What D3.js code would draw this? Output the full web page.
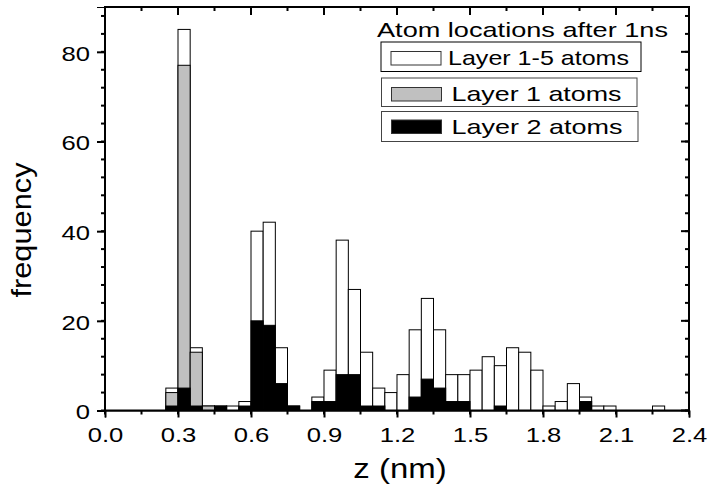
<!DOCTYPE html>
<html>
<head>
<meta charset="utf-8">
<script src="https://cdn.jsdelivr.net/npm/d3@7"></script>
<style>
  body { margin: 0; background: #fff; }
  text { font-family: "Liberation Sans", Arial, sans-serif; fill: #000; }
</style>
</head>
<body>
<div id="chart"></div>
<script>
// histogram of atom z positions, bin width 0.05 nm
const binStart = [0.25, 0.30, 0.35, 0.40, 0.45, 0.50, 0.55, 0.60, 0.65, 0.70, 0.75, 0.80, 0.85, 0.90, 0.95,
                  1.00, 1.05, 1.10, 1.15, 1.20, 1.25, 1.30, 1.35, 1.40, 1.45, 1.50, 1.55, 1.60, 1.65, 1.70,
                  1.75, 1.80, 1.85, 1.90, 1.95, 2.00, 2.05, 2.10, 2.15, 2.20, 2.25];
const binWidth = 0.05;
const layerAll = [5, 85, 14, 1, 1, 1, 2, 40, 42, 14, 1, 0, 3, 9, 38,
                  27, 13, 5, 4, 8, 18, 25, 18, 8, 8, 9, 12, 10, 14, 13,
                  9, 1, 2, 6, 3, 1, 1, 0, 0, 0, 1];
const layer1 = [4, 77, 13, 1, 0, 0, 0, 0, 0, 0, 0, 0, 0, 0, 0,
                0, 0, 0, 0, 0, 0, 0, 0, 0, 0, 0, 0, 0, 0, 0,
                0, 0, 0, 0, 0, 0, 0, 0, 0, 0, 0];
const layer2 = [1, 5, 1, 0, 1, 0, 1, 20, 19, 6, 1, 0, 2, 2, 8,
                8, 1, 1, 0, 0, 3, 7, 5, 2, 2, 0, 0, 1, 0, 0,
                0, 0, 0, 0, 2, 0, 0, 0, 0, 0, 0];
const xTicks = [0.0, 0.3, 0.6, 0.9, 1.2, 1.5, 1.8, 2.1, 2.4];
const yTicks = [0, 20, 40, 60, 80];
const legendTitle = 'Atom locations after 1ns';
const seriesNames = ['Layer 1-5 atoms', 'Layer 1 atoms', 'Layer 2 atoms'];
const seriesFill = ['#ffffff', '#c0c0c0', '#000000'];

const svgWidth = 709, svgHeight = 489;
const plotLeft = 105, plotRight = 689, plotTop = 7, plotBottom = 410.5;
const stretch = 1.22; // the original text is wider than plain Arial

const svg = d3.select('#chart').append('svg')
    .attr('width', svgWidth)
    .attr('height', svgHeight);

const x = d3.scaleLinear().domain([0, 2.4]).range([plotLeft, plotRight]);
const y = d3.scaleLinear().domain([0, 90]).range([plotBottom, plotTop]);

// bars: white total first, then layer 1, then layer 2 on top
const series = [layerAll, layer1, layer2];
series.forEach((vals, si) => {
    const rows = binStart.map((b, i) => ({ b: b, v: vals[i] })).filter(d => d.v > 0);
    svg.append('g').selectAll('rect')
        .data(rows)
        .enter()
        .append('rect')
        .attr('x', d => x(d.b))
        .attr('y', d => y(d.v))
        .attr('width', d => x(d.b + binWidth) - x(d.b))
        .attr('height', d => y(0) - y(d.v))
        .attr('fill', seriesFill[si])
        .attr('stroke', '#000')
        .attr('stroke-width', 1);
});

function widen(sel) {
    sel.each(function() {
        const len = this.getComputedTextLength();
        d3.select(this).attr('textLength', len * stretch).attr('lengthAdjust', 'spacingAndGlyphs');
    });
}

const xMinor = d3.range(0, 2.41, 0.15);
const yMinor = d3.range(0, 89, 4);

// bottom axis
const gx = svg.append('g')
    .attr('transform', `translate(0,${plotBottom})`)
    .call(d3.axisBottom(x).tickValues(xTicks).tickFormat(d3.format('.1f')).tickSize(7).tickPadding(10));
gx.selectAll('line').attr('stroke-width', 2);
gx.selectAll('text').style('font-size', '21px');
widen(gx.selectAll('text'));
gx.append('g').selectAll('line')
    .data(xMinor)
    .enter().append('line')
    .attr('x1', d => x(d)).attr('x2', d => x(d))
    .attr('y1', 0).attr('y2', 4)
    .attr('stroke', '#000').attr('stroke-width', 2);

// left axis
const gy = svg.append('g')
    .attr('transform', `translate(${plotLeft},0)`)
    .call(d3.axisLeft(y).tickValues(yTicks).tickSize(8).tickPadding(7));
gy.selectAll('line').attr('stroke-width', 2);
gy.selectAll('text').style('font-size', '21px').attr('dy', '0.4em');
widen(gy.selectAll('text'));
gy.append('g').selectAll('line')
    .data(yMinor)
    .enter().append('line')
    .attr('y1', d => y(d)).attr('y2', d => y(d))
    .attr('x1', 0).attr('x2', -4)
    .attr('stroke', '#000').attr('stroke-width', 2);

// mirrored top and right axes, ticks pointing inward
const gt = svg.append('g');
gt.selectAll('line.major')
    .data(xTicks)
    .enter().append('line')
    .attr('x1', d => x(d)).attr('x2', d => x(d))
    .attr('y1', plotTop).attr('y2', plotTop + 8)
    .attr('stroke', '#000').attr('stroke-width', 2);
gt.selectAll('line.minor')
    .data(xMinor)
    .enter().append('line')
    .attr('x1', d => x(d)).attr('x2', d => x(d))
    .attr('y1', plotTop).attr('y2', plotTop + 4)
    .attr('stroke', '#000').attr('stroke-width', 2);

const gr = svg.append('g');
gr.selectAll('line.major')
    .data(yTicks)
    .enter().append('line')
    .attr('y1', d => y(d)).attr('y2', d => y(d))
    .attr('x1', plotRight).attr('x2', plotRight - 8)
    .attr('stroke', '#000').attr('stroke-width', 2);
gr.selectAll('line.minor')
    .data(yMinor)
    .enter().append('line')
    .attr('y1', d => y(d)).attr('y2', d => y(d))
    .attr('x1', plotRight).attr('x2', plotRight - 4)
    .attr('stroke', '#000').attr('stroke-width', 2);

// frame
svg.append('rect')
    .attr('x', plotLeft).attr('y', plotTop)
    .attr('width', plotRight - plotLeft).attr('height', plotBottom - plotTop)
    .attr('fill', 'none').attr('stroke', '#000').attr('stroke-width', 2);

// axis titles
svg.append('text')
    .attr('x', 400).attr('y', 478)
    .attr('text-anchor', 'middle')
    .style('font-size', '27px')
    .text('z (nm)')
    .call(widen);

svg.append('text')
    .attr('transform', 'translate(31,230) rotate(-90)')
    .attr('text-anchor', 'middle')
    .style('font-size', '28px')
    .text('frequency')
    .attr('textLength', 135)
    .attr('lengthAdjust', 'spacingAndGlyphs');

// legend
svg.append('text')
    .attr('x', 377).attr('y', 36.5)
    .style('font-size', '21px')
    .text(legendTitle)
    .attr('textLength', 291)
    .attr('lengthAdjust', 'spacingAndGlyphs');

const legendBoxes = [
    { x: 381, y: 42, w: 260, h: 29.5, sy: 51.5, ty: 65, tx: 448, tl: 181, border: '#000' },
    { x: 381.5, y: 78, w: 255.5, h: 28.5, sy: 87.5, ty: 100.5, tx: 451.5, tl: 170, border: '#444' },
    { x: 381.5, y: 111.5, w: 256.5, h: 30, sy: 120, ty: 133.5, tx: 451.5, tl: 171, border: '#444' }
];
const lg = svg.append('g');
legendBoxes.forEach((b, i) => {
    lg.append('rect')
        .attr('x', b.x).attr('y', b.y).attr('width', b.w).attr('height', b.h)
        .attr('fill', '#fff').attr('stroke', b.border).attr('stroke-width', 1);
    lg.append('rect')
        .attr('x', b.x + 10).attr('y', b.sy).attr('width', 50).attr('height', 13.5)
        .attr('fill', seriesFill[i]).attr('stroke', '#333').attr('stroke-width', 1);
    lg.append('text')
        .attr('x', b.tx).attr('y', b.ty)
        .style('font-size', '21px')
        .text(seriesNames[i])
        .attr('textLength', b.tl)
        .attr('lengthAdjust', 'spacingAndGlyphs');
});
</script>
</body>
</html>
